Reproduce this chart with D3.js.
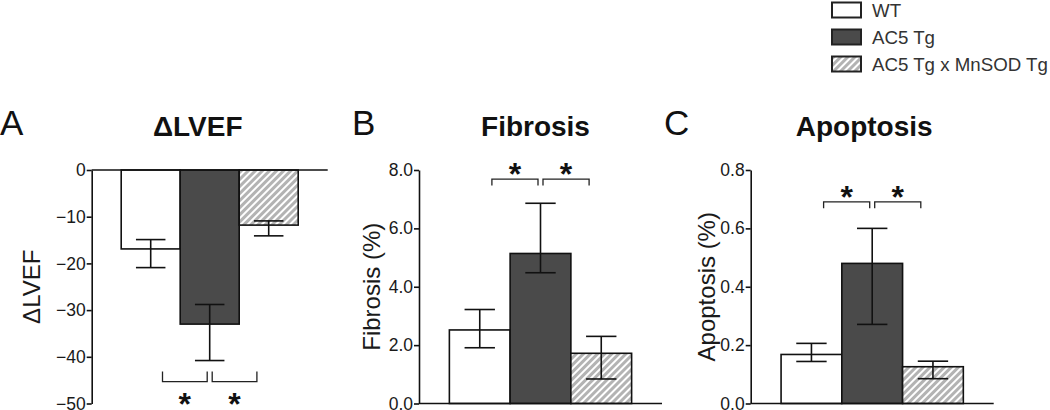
<!DOCTYPE html>
<html>
<head>
<meta charset="utf-8">
<script src="https://cdn.jsdelivr.net/npm/d3@7"></script>
<style>
  body { margin: 0; background: #fff; }
  svg { display: block; font-family: "Liberation Sans", Arial, sans-serif; }
</style>
</head>
<body>
<div id="chart"></div>
<script>
// groups (legend + bar order)
const groups = ["WT", "AC5 Tg", "AC5 Tg x MnSOD Tg"];

// panel A - delta LVEF
const lvefMean = [-16.9, -33.0, -11.8];
const lvefHi = [-14.9, -28.8, -10.9];
const lvefLo = [-20.9, -40.8, -14.1];
const lvefTicks = [0, -10, -20, -30, -40, -50];

// panel B - fibrosis
const fibMean = [2.52, 5.14, 1.72];
const fibHi = [3.22, 6.86, 2.30];
const fibLo = [1.91, 4.48, 0.84];
const fibTicks = [0, 2, 4, 6, 8];

// panel C - apoptosis
const apoMean = [0.168, 0.48, 0.126];
const apoHi = [0.206, 0.60, 0.145];
const apoLo = [0.144, 0.271, 0.085];
const apoTicks = [0, 0.2, 0.4, 0.6, 0.8];

const svg = d3.select("#chart")
    .append("svg")
    .attr("width", 1050)
    .attr("height", 410);

// hatch pattern for 3rd group
const defs = svg.append("defs");
const pat = defs.append("pattern")
    .attr("id", "hatch")
    .attr("patternUnits", "userSpaceOnUse")
    .attr("width", 5)
    .attr("height", 5)
    .attr("patternTransform", "rotate(45)");
pat.append("rect").attr("width", 5).attr("height", 5).attr("fill", "#fff");
pat.append("rect").attr("width", 3).attr("height", 5).attr("fill", "#b3b3b3");

const fills = ["#fff", "#4a4a4a", "url(#hatch)"];

const yTop = 170, yBottom = 403.5;

function panel(opt) {
    const g = svg.append("g").attr("transform", `translate(${opt.x0},0)`);

    const x = d3.scaleBand()
        .domain(groups)
        .range([0, opt.width])
        .paddingInner(0)
        .paddingOuter(0.5);

    const y = d3.scaleLinear()
        .domain(opt.domain)
        .range([yBottom, yTop]);

    const data = groups.map((k, i) => ({ k, m: opt.mean[i], hi: opt.hi[i], lo: opt.lo[i] }));

    // bars
    g.selectAll(".bar")
        .data(data)
        .enter()
        .append("rect")
        .attr("x", d => x(d.k))
        .attr("y", d => Math.min(y(d.m), y(0)))
        .attr("width", x.bandwidth())
        .attr("height", d => Math.abs(y(d.m) - y(0)))
        .attr("fill", (d, i) => fills[i])
        .attr("stroke", "#111")
        .attr("stroke-width", 1.6);

    // error bars
    const cap = x.bandwidth() * 0.25;
    const eb = g.selectAll(".err").data(data).enter().append("g")
        .attr("stroke", "#111").attr("stroke-width", 1.6);
    eb.append("line")
        .attr("x1", d => x(d.k) + x.bandwidth() / 2)
        .attr("x2", d => x(d.k) + x.bandwidth() / 2)
        .attr("y1", d => y(d.hi))
        .attr("y2", d => y(d.lo));
    eb.append("line")
        .attr("x1", d => x(d.k) + x.bandwidth() / 2 - cap)
        .attr("x2", d => x(d.k) + x.bandwidth() / 2 + cap)
        .attr("y1", d => y(d.hi))
        .attr("y2", d => y(d.hi));
    eb.append("line")
        .attr("x1", d => x(d.k) + x.bandwidth() / 2 - cap)
        .attr("x2", d => x(d.k) + x.bandwidth() / 2 + cap)
        .attr("y1", d => y(d.lo))
        .attr("y2", d => y(d.lo));

    // y axis
    const ax = g.append("g")
        .call(d3.axisLeft(y).tickValues(opt.ticks).tickFormat(opt.fmt).tickSize(5).tickSizeOuter(0).tickPadding(1));
    ax.select(".domain").attr("stroke", "#111").attr("stroke-width", 1.6);
    ax.selectAll(".tick line").attr("stroke", "#111").attr("stroke-width", 1.6);
    ax.selectAll(".tick text")
        .attr("font-size", 17.5)
        .attr("font-family", "Liberation Sans, Arial, sans-serif")
        .attr("fill", "#1a1a1a");

    // zero line
    g.append("line")
        .attr("x1", 0).attr("x2", opt.width)
        .attr("y1", y(0)).attr("y2", y(0))
        .attr("stroke", "#111").attr("stroke-width", 1.6);

    // y title
    g.append("text")
        .attr("transform", `translate(${opt.ytx},${(yTop + yBottom) / 2}) rotate(-90)`)
        .attr("text-anchor", "middle")
        .attr("font-size", 24)
        .attr("fill", "#1a1a1a")
        .text(opt.ylabel);

    // title
    const barsMid = x(groups[0]) + x.bandwidth() * 1.5;
    g.append("text")
        .attr("x", barsMid + opt.tdx)
        .attr("y", 136)
        .attr("text-anchor", "middle")
        .attr("font-size", 28)
        .attr("font-weight", "bold")
        .attr("fill", "#111")
        .text(opt.title);

    // panel letter
    svg.append("text")
        .attr("x", opt.lx)
        .attr("y", 135)
        .attr("font-size", 35)
        .attr("fill", "#111")
        .text(opt.letter);

    // significance brackets
    const cx = i => x(groups[i]) + x.bandwidth() / 2;
    const bw = x.bandwidth();
    const pairs = [[cx(0) + 0.2 * bw, cx(1) - 2.5], [cx(1) + 2.5, cx(2) - 0.2 * bw]];
    const by = y(opt.sig);
    const tick = opt.sigDown ? -10 : 6.5;
    pairs.forEach(p => {
        g.append("path")
            .attr("d", `M${p[0]},${by + tick}V${by}H${p[1]}V${by + tick}`)
            .attr("fill", "none")
            .attr("stroke", "#222")
            .attr("stroke-width", 1.3);
        g.append("text")
            .attr("x", (p[0] + p[1]) / 2)
            .attr("y", opt.sigDown ? by + 33 : by + 6)
            .attr("text-anchor", "middle")
            .attr("font-size", 32)
            .attr("font-weight", "bold")
            .attr("fill", "#111")
            .text("*");
    });
}

panel({
    x0: 91.7, width: 236, domain: [-50, 0], ticks: lvefTicks, fmt: d3.format("d"),
    mean: lvefMean, hi: lvefHi, lo: lvefLo,
    ylabel: "ΔLVEF", ytx: -52, title: "ΔLVEF", tdx: -12, letter: "A", lx: 0,
    sig: -45.3, sigDown: true
});

panel({
    x0: 419, width: 243, domain: [0, 8], ticks: fibTicks, fmt: d3.format(".1f"),
    mean: fibMean, hi: fibHi, lo: fibLo,
    ylabel: "Fibrosis (%)", ytx: -39, title: "Fibrosis", tdx: -5, letter: "B", lx: 352,
    sig: 7.69, sigDown: false
});

panel({
    x0: 750.7, width: 243, domain: [0, 0.8], ticks: apoTicks, fmt: d3.format(".1f"),
    mean: apoMean, hi: apoHi, lo: apoLo,
    ylabel: "Apoptosis (%)", ytx: -36, title: "Apoptosis", tdx: -8, letter: "C", lx: 664,
    sig: 0.691, sigDown: false
});

// legend
const legend = svg.append("g").attr("transform", "translate(832,2.5)");
const row = legend.selectAll(".lg")
    .data(groups)
    .enter()
    .append("g")
    .attr("transform", (d, i) => `translate(0,${i * 27})`);
row.append("rect")
    .attr("width", 29)
    .attr("height", 15)
    .attr("fill", (d, i) => fills[i])
    .attr("stroke", "#222")
    .attr("stroke-width", 2);
row.append("text")
    .attr("x", 40)
    .attr("y", 14)
    .attr("font-size", 18.7)
    .attr("fill", "#333")
    .text(d => d);
</script>
</body>
</html>
